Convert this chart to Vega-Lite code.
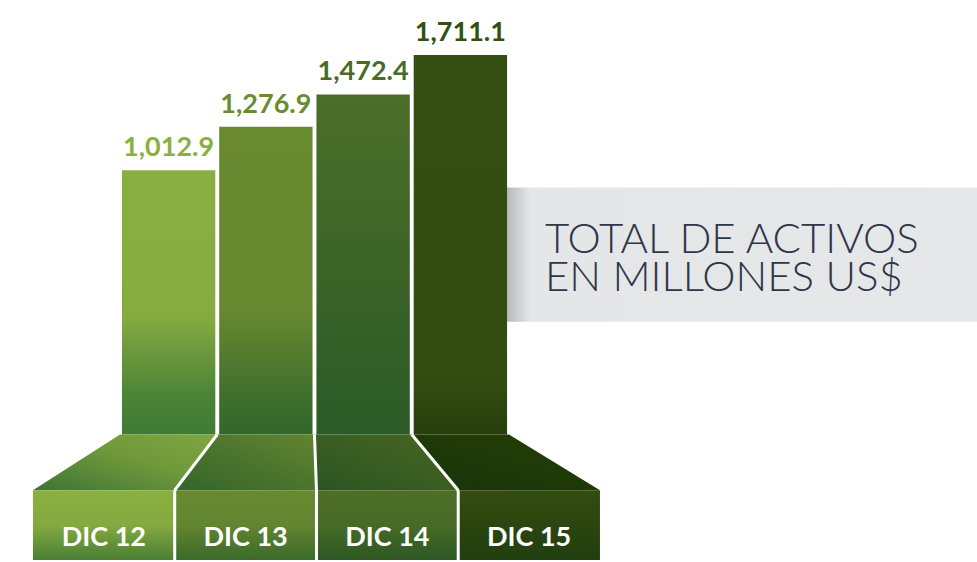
{
  "$schema": "https://vega.github.io/schema/vega-lite/v6.json",
  "width": 977,
  "height": 562,
  "autosize": {"type": "fit", "contains": "padding"},
  "padding": 0,
  "background": "#ffffff",
  "config": {"view": {"stroke": null}},
  "datasets": {
    "bars": [
      {"cat": "DIC 12", "value": 1012.9},
      {"cat": "DIC 13", "value": 1276.9},
      {"cat": "DIC 14", "value": 1472.4},
      {"cat": "DIC 15", "value": 1711.1}
    ],
    "ped": [
      {"cat": "DIC 12", "i": 0, "level": "top"},
      {"cat": "DIC 12", "i": 0, "level": "mid"},
      {"cat": "DIC 13", "i": 1, "level": "top"},
      {"cat": "DIC 13", "i": 1, "level": "mid"},
      {"cat": "DIC 14", "i": 2, "level": "top"},
      {"cat": "DIC 14", "i": 2, "level": "mid"},
      {"cat": "DIC 15", "i": 3, "level": "top"},
      {"cat": "DIC 15", "i": 3, "level": "mid"}
    ],
    "caption": [
      {"t": "TOTAL DE ACTIVOS\nEN MILLONES US$"}
    ]
  },
  "layer": [
    {
      "data": {"name": "caption"},
      "mark": {"type": "rect"},
      "encoding": {
        "x": {"datum": 3.9, "type": "quantitative", "scale": {"domain": [-1.2339, 8.8123], "nice": false, "zero": false}, "axis": null},
        "x2": {"datum": 8.8123},
        "y": {"datum": 909, "type": "quantitative", "scale": {"domain": [-1350, 2045], "nice": false, "zero": false}, "axis": null},
        "y2": {"datum": 94},
        "color": {"value": {"gradient": "linear", "x1": 0, "y1": 0, "x2": 1, "y2": 0, "stops": [
          {"offset": 0, "color": "#a9abad"},
          {"offset": 0.025, "color": "#bfc1c3"},
          {"offset": 0.065, "color": "#e5e6e7"},
          {"offset": 1, "color": "#e6e7e8"}
        ]}}
      }
    },
    {
      "data": {"name": "caption"},
      "mark": {"type": "text", "align": "left", "baseline": "alphabetic", "lineBreak": "\n", "font": "Lato", "fontWeight": 300, "fontSize": 42, "lineHeight": 38, "color": "#2f364a"},
      "encoding": {
        "x": {"datum": 4.37, "type": "quantitative", "scale": {"domain": [-1.2339, 8.8123], "nice": false, "zero": false}, "axis": null},
        "y": {"datum": 510.6, "type": "quantitative", "scale": {"domain": [-1350, 2045], "nice": false, "zero": false}, "axis": null},
        "text": {"field": "t"}
      }
    },
    {
      "data": {"name": "bars"},
      "transform": [
        {"window": [{"op": "row_number", "as": "rn"}]},
        {"calculate": "datum.rn - 1 + 0.02", "as": "x0"},
        {"calculate": "datum.rn - 1 + 0.98", "as": "x1"}
      ],
      "mark": {"type": "bar"},
      "encoding": {
        "x": {"field": "x0", "type": "quantitative", "scale": {"domain": [-1.2339, 8.8123], "nice": false, "zero": false}, "axis": null},
        "x2": {"field": "x1"},
        "y": {"field": "value", "type": "quantitative", "scale": {"domain": [-1350, 2045], "nice": false, "zero": false}, "axis": null},
        "y2": {"datum": -589},
        "color": {
          "condition": [
            {"test": "datum.cat === 'DIC 12'", "value": {"gradient": "linear", "x1": 0, "y1": 0, "x2": 0, "y2": 1, "stops": [
              {"offset": 0, "color": "#8aae42"}, {"offset": 0.55, "color": "#87ab41"}, {"offset": 0.85, "color": "#4c8437"}, {"offset": 1, "color": "#3f7b37"}]}},
            {"test": "datum.cat === 'DIC 13'", "value": {"gradient": "linear", "x1": 0, "y1": 0, "x2": 0, "y2": 1, "stops": [
              {"offset": 0, "color": "#6a8a30"}, {"offset": 0.6, "color": "#67882f"}, {"offset": 0.9, "color": "#3c6d2d"}, {"offset": 1, "color": "#33672b"}]}},
            {"test": "datum.cat === 'DIC 14'", "value": {"gradient": "linear", "x1": 0, "y1": 0, "x2": 0, "y2": 1, "stops": [
              {"offset": 0, "color": "#4c6e29"}, {"offset": 0.5, "color": "#3c6428"}, {"offset": 1, "color": "#2b5b27"}]}}
          ],
          "value": {"gradient": "linear", "x1": 0, "y1": 0, "x2": 0, "y2": 1, "stops": [
            {"offset": 0, "color": "#354e11"}, {"offset": 0.85, "color": "#334c10"}, {"offset": 1, "color": "#263f0c"}]}
        }
      }
    },
    {
      "data": {"name": "bars"},
      "transform": [
        {"window": [{"op": "row_number", "as": "rn"}]},
        {"calculate": "datum.rn - 0.5", "as": "xm"}
      ],
      "mark": {"type": "text", "baseline": "bottom", "dy": -8, "font": "Lato", "fontWeight": "bold", "fontSize": 27},
      "encoding": {
        "x": {"field": "xm", "type": "quantitative", "scale": {"domain": [-1.2339, 8.8123], "nice": false, "zero": false}, "axis": null},
        "y": {"field": "value", "type": "quantitative", "scale": {"domain": [-1350, 2045], "nice": false, "zero": false}, "axis": null},
        "text": {"field": "value", "format": ",.1f"},
        "color": {
          "condition": [
            {"test": "datum.cat === 'DIC 12'", "value": "#8bb042"},
            {"test": "datum.cat === 'DIC 13'", "value": "#6b8b31"},
            {"test": "datum.cat === 'DIC 14'", "value": "#4a6b27"}
          ],
          "value": "#354e12"
        }
      }
    },
    {
      "data": {"name": "ped"},
      "transform": [
        {"calculate": "datum.level === 'top' ? datum.i : 1.956 + 1.4576 * (datum.i - 1.956)", "as": "xl"},
        {"calculate": "datum.level === 'top' ? datum.i + 1 : 1.956 + 1.4576 * (datum.i + 1 - 1.956)", "as": "xr"},
        {"calculate": "datum.level === 'top' ? -589 : -927", "as": "ly"}
      ],
      "mark": {"type": "area", "orient": "horizontal"},
      "encoding": {
        "y": {"field": "ly", "type": "quantitative", "scale": {"domain": [-1350, 2045], "nice": false, "zero": false}, "axis": null},
        "x": {"field": "xl", "type": "quantitative", "stack": null, "scale": {"domain": [-1.2339, 8.8123], "nice": false, "zero": false}, "axis": null},
        "x2": {"field": "xr"},
        "detail": {"field": "cat"},
        "color": {
          "condition": [
            {"test": "datum.cat === 'DIC 12'", "value": {"gradient": "linear", "x1": 1, "y1": 0, "x2": 0, "y2": 1, "stops": [
              {"offset": 0, "color": "#80a63f"}, {"offset": 0.45, "color": "#6f983b"}, {"offset": 1, "color": "#3d7534"}]}},
            {"test": "datum.cat === 'DIC 13'", "value": {"gradient": "linear", "x1": 1, "y1": 0, "x2": 0, "y2": 1, "stops": [
              {"offset": 0, "color": "#628430"}, {"offset": 1, "color": "#33652a"}]}},
            {"test": "datum.cat === 'DIC 14'", "value": {"gradient": "linear", "x1": 1, "y1": 0, "x2": 0, "y2": 1, "stops": [
              {"offset": 0, "color": "#4a6622"}, {"offset": 1, "color": "#2a5522"}]}}
          ],
          "value": {"gradient": "linear", "x1": 1, "y1": 0, "x2": 0, "y2": 1, "stops": [
            {"offset": 0, "color": "#273f06"}, {"offset": 1, "color": "#17340a"}]}
        }
      }
    },
    {
      "data": {"name": "ped"},
      "transform": [
        {"filter": "datum.level === 'mid'"},
        {"calculate": "1.956 + 1.4576 * (datum.i - 1.956)", "as": "xl"},
        {"calculate": "1.956 + 1.4576 * (datum.i + 1 - 1.956)", "as": "xr"}
      ],
      "mark": {"type": "rect"},
      "encoding": {
        "x": {"field": "xl", "type": "quantitative", "scale": {"domain": [-1.2339, 8.8123], "nice": false, "zero": false}, "axis": null},
        "x2": {"field": "xr"},
        "y": {"datum": -927, "type": "quantitative", "scale": {"domain": [-1350, 2045], "nice": false, "zero": false}, "axis": null},
        "y2": {"datum": -1350},
        "color": {
          "condition": [
            {"test": "datum.cat === 'DIC 12'", "value": {"gradient": "linear", "x1": 0, "y1": 0, "x2": 0, "y2": 1, "stops": [
              {"offset": 0, "color": "#8ab042"}, {"offset": 0.5, "color": "#84aa40"}, {"offset": 1, "color": "#4a7e34"}]}},
            {"test": "datum.cat === 'DIC 13'", "value": {"gradient": "linear", "x1": 0, "y1": 0, "x2": 0, "y2": 1, "stops": [
              {"offset": 0, "color": "#678a30"}, {"offset": 0.5, "color": "#628530"}, {"offset": 1, "color": "#3b6a2a"}]}},
            {"test": "datum.cat === 'DIC 14'", "value": {"gradient": "linear", "x1": 0, "y1": 0, "x2": 0, "y2": 1, "stops": [
              {"offset": 0, "color": "#4e6e28"}, {"offset": 0.5, "color": "#486a27"}, {"offset": 1, "color": "#2c5823"}]}}
          ],
          "value": {"gradient": "linear", "x1": 0, "y1": 0, "x2": 0, "y2": 1, "stops": [
            {"offset": 0, "color": "#344c10"}, {"offset": 1, "color": "#213e0e"}]}
        }
      }
    },
    {
      "data": {"name": "ped"},
      "transform": [
        {"filter": "datum.level === 'mid' && datum.i >= 1"},
        {"calculate": "1.956 + 1.4576 * (datum.i - 1.956)", "as": "xb"}
      ],
      "mark": {"type": "rule", "color": "#ffffff", "strokeWidth": 3},
      "encoding": {
        "x": {"field": "i", "type": "quantitative", "scale": {"domain": [-1.2339, 8.8123], "nice": false, "zero": false}, "axis": null},
        "x2": {"field": "xb"},
        "y": {"datum": -589, "type": "quantitative", "scale": {"domain": [-1350, 2045], "nice": false, "zero": false}, "axis": null},
        "y2": {"datum": -927}
      }
    },
    {
      "data": {"name": "ped"},
      "transform": [
        {"filter": "datum.level === 'mid' && datum.i >= 1"},
        {"calculate": "1.956 + 1.4576 * (datum.i - 1.956)", "as": "xb"}
      ],
      "mark": {"type": "rule", "color": "#ffffff", "strokeWidth": 3},
      "encoding": {
        "x": {"field": "xb", "type": "quantitative", "scale": {"domain": [-1.2339, 8.8123], "nice": false, "zero": false}, "axis": null},
        "y": {"datum": -927, "type": "quantitative", "scale": {"domain": [-1350, 2045], "nice": false, "zero": false}, "axis": null},
        "y2": {"datum": -1350}
      }
    },
    {
      "data": {"name": "ped"},
      "transform": [
        {"filter": "datum.level === 'mid'"},
        {"calculate": "1.956 + 1.4576 * (datum.i + 0.5 - 1.956)", "as": "xc"}
      ],
      "mark": {"type": "text", "baseline": "middle", "align": "center", "font": "Lato", "fontWeight": "bold", "fontSize": 27, "color": "#ffffff"},
      "encoding": {
        "x": {"field": "xc", "type": "quantitative", "scale": {"domain": [-1.2339, 8.8123], "nice": false, "zero": false}, "axis": null},
        "y": {"datum": -1217, "type": "quantitative", "scale": {"domain": [-1350, 2045], "nice": false, "zero": false}, "axis": null},
        "text": {"field": "cat"}
      }
    }
  ]
}
